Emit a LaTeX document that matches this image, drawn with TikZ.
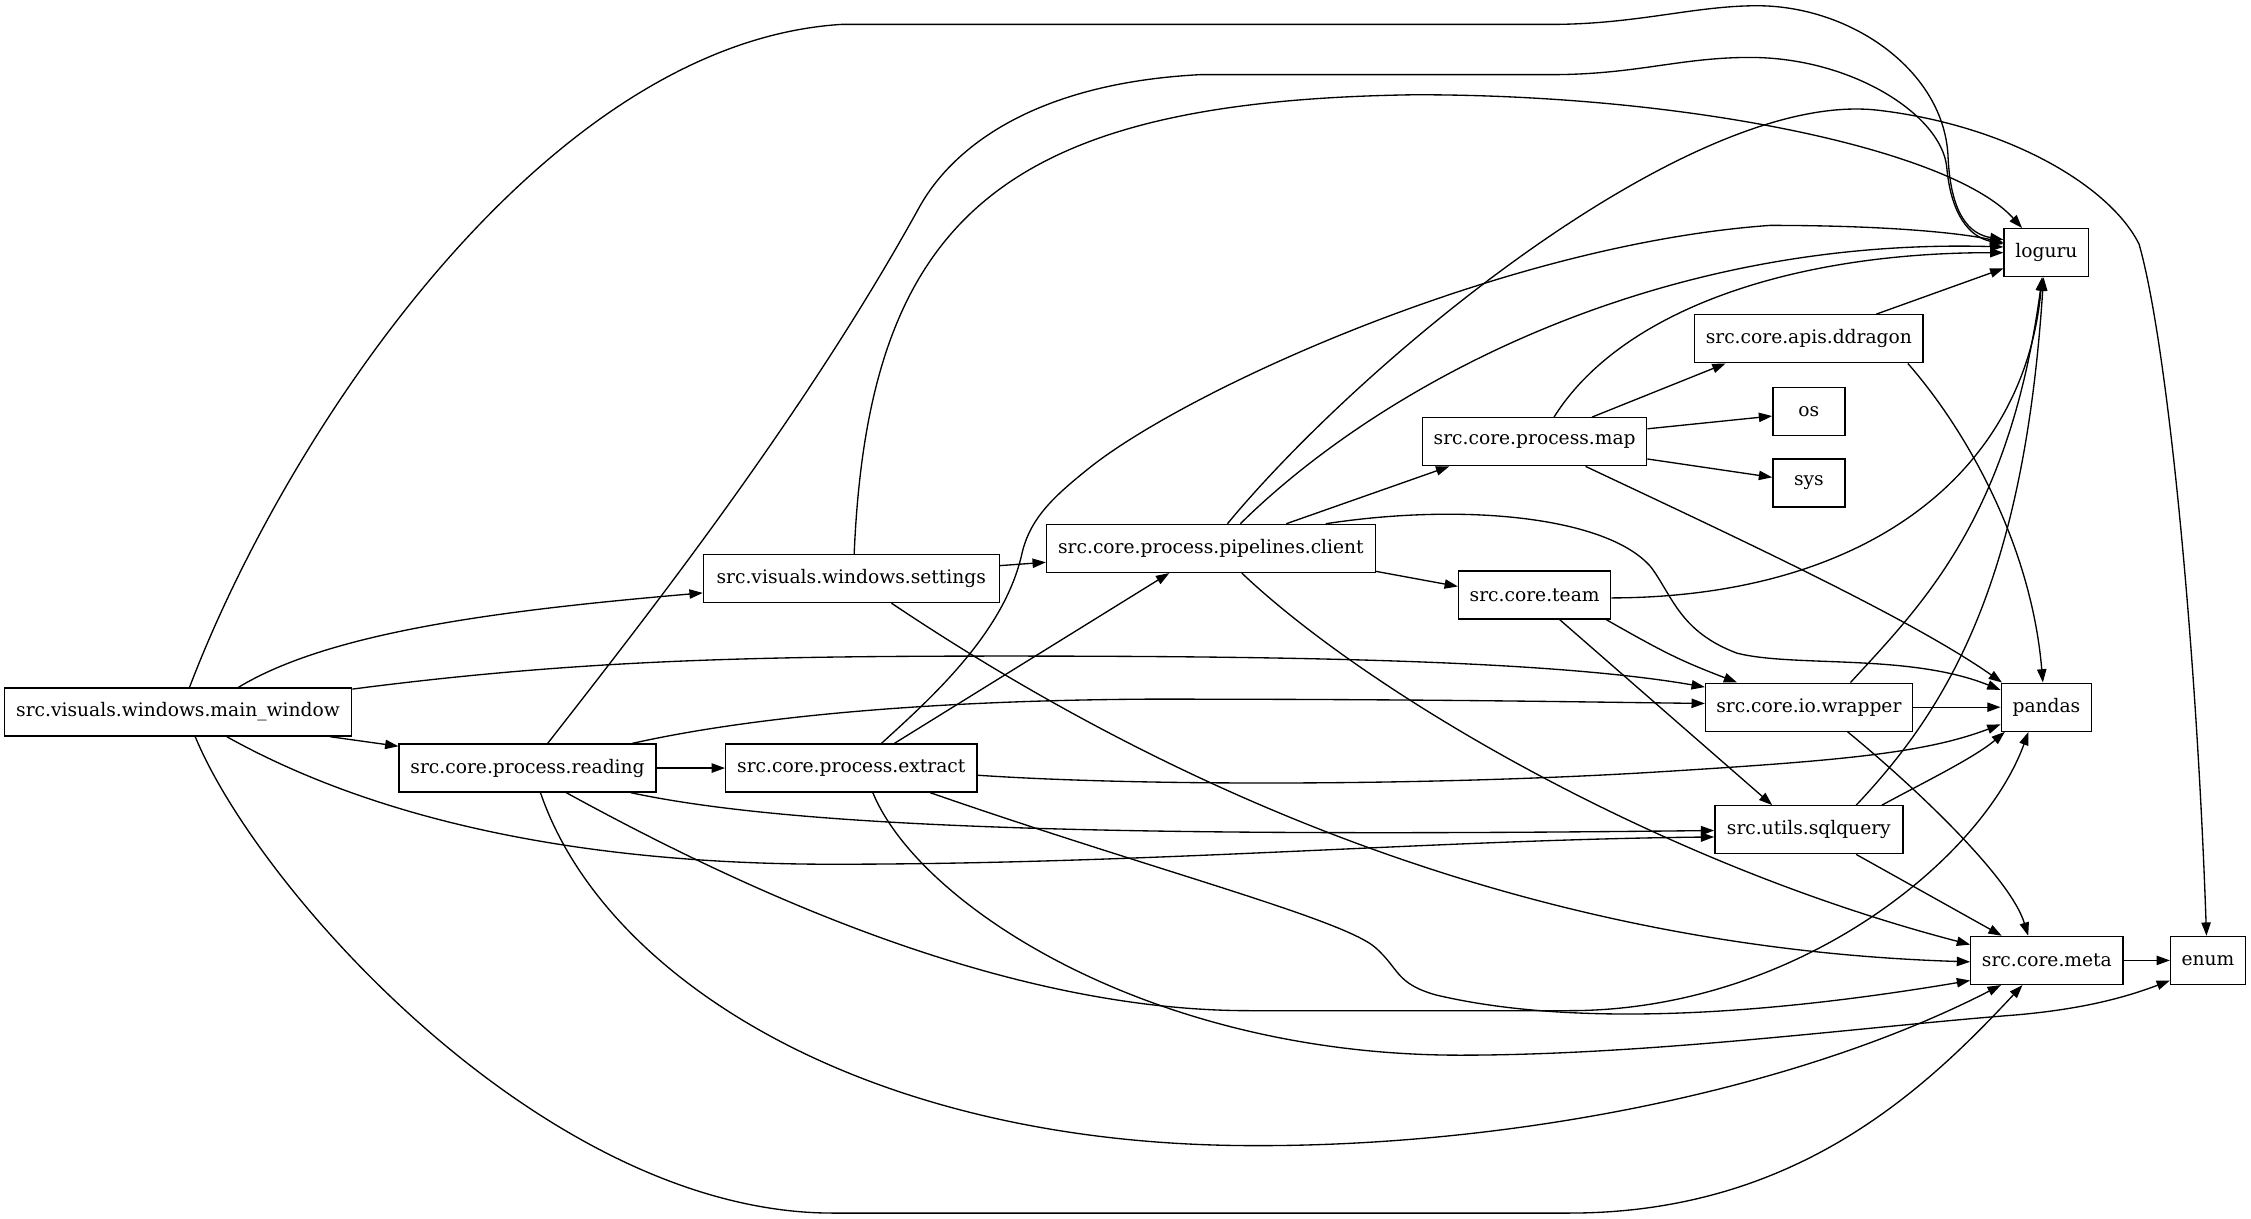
\documentclass[tikz,border=0pt]{standalone}
\usepackage{fontspec}
\setmainfont{DejaVu Serif}
\usetikzlibrary{arrows.meta,calc}
\begin{document}
\begin{tikzpicture}[x=1.0767pt,y=-1.0767pt,
  mod/.style={draw,line width=1pt,rectangle,minimum height=36pt,inner sep=0pt,font=\fontsize{14pt}{17pt}\selectfont},
  dep/.style={line width=1pt,-{Triangle[length=10pt,width=7pt]}}]
\useasboundingbox[fill=white] (0,0) rectangle (1568,849);
% nodes
\node[mod,minimum width=260.6pt] (mw) at (124,496) {src.visuals.windows.main\_window};
\node[mod,minimum width=192.7pt] (rd) at (367.5,535) {src.core.process.reading};
\node[mod,minimum width=221.8pt] (st) at (593,403) {src.visuals.windows.settings};
\node[mod,minimum width=188.4pt] (ex) at (593,535) {src.core.process.extract};
\node[mod,minimum width=246.6pt] (cl) at (843.5,382) {src.core.process.pipelines.client};
\node[mod,minimum width=168pt] (mp) at (1069,307.7) {src.core.process.map};
\node[mod,minimum width=114.1pt] (tm) at (1069,414.5) {src.core.team};
\node[mod,minimum width=171.2pt] (dd) at (1260,236) {src.core.apis.ddragon};
\node[mod,minimum width=54pt] (os) at (1260,286.5) {os};
\node[mod,minimum width=54pt] (sy) at (1260,336.5) {sys};
\node[mod,minimum width=63.5pt] (lg) at (1425.5,176) {loguru};
\node[mod,minimum width=155pt] (wr) at (1260,492.6) {src.core.io.wrapper};
\node[mod,minimum width=67.8pt] (pd) at (1425.5,492.6) {pandas};
\node[mod,minimum width=141pt] (sq) at (1260,578) {src.utils.sqlquery};
\node[mod,minimum width=114.1pt] (mt) at (1425.8,669) {src.core.meta};
\node[mod,minimum width=56pt] (en) at (1538,669) {enum};
% main_window
\draw[dep] ($(mw.north)+(8,0)$) .. controls (200,300) and (380,30) .. (586,17) -- (1080,17)
  .. controls (1140,17) and (1180,4) .. (1224,4) .. controls (1290,4) and (1355,50) .. (1357,110)
  .. controls (1359,150) and (1372,163) .. ($(lg.west)+(0,-9)$);
\draw[dep] ($(mw.north)+(42,0)$) .. controls (230,440) and (350,425) .. ($(st.west)+(0,10)$);
\draw[dep] ($(mw.east)+(0,-16)$) .. controls (400,460) and (520,457) .. (700,457)
  .. controls (900,457) and (1080,460) .. ($(wr.west)+(0,-14)$);
\draw[dep] ($(mw.south)+(106,0)$) -- ($(rd.north west)+(0,2)$);
\draw[dep] ($(mw.south)+(34,0)$) .. controls (260,570) and (400,602) .. (580,602)
  .. controls (800,602) and (1000,585) .. ($(sq.west)+(0,5)$);
\draw[dep] ($(mw.south)+(12,0)$) .. controls (180,620) and (380,845) .. (580,845) -- (1093,845)
  .. controls (1250,845) and (1340,760) .. ($(mt.south)+(-17,0)$);
% reading
\draw[dep] (rd.east) -- (ex.west);
\draw[dep] ($(rd.north)+(14,0)$) .. controls (450,430) and (560,290) .. (640,145)
  .. controls (663,103) and (720,58) .. (836,52) -- (1080,52)
  .. controls (1140,52) and (1170,40) .. (1219,40) .. controls (1290,40) and (1352,80) .. (1356,116)
  .. controls (1359,150) and (1372,165) .. ($(lg.west)+(0,-6)$);
\draw[dep] ($(rd.north east)+(-17,0)$) .. controls (520,500) and (640,488) .. (800,487)
  .. controls (1000,487) and (1100,489) .. ($(wr.west)+(0,-2.6)$);
\draw[dep] ($(rd.south east)+(-18,0)$) .. controls (560,578) and (800,583) .. ($(sq.west)+(0,0.5)$);
\draw[dep] ($(rd.south)+(27,0)$) .. controls (520,621) and (700,704) .. (870,704) -- (1093,704)
  .. controls (1250,704) and (1380,600) .. ($(pd.south)+(-12.5,0)$);
\draw[dep] ($(rd.south)+(9,0)$) .. controls (420,680) and (600,797) .. (870,798)
  .. controls (1050,799) and (1250,760) .. ($(mt.south)+(-32,0)$);
% settings
\draw[dep] ($(st.east)+(0,-9)$) -- ($(cl.west)+(0,9.7)$);
\draw[dep] ($(st.north)+(2,0)$) .. controls (605,150) and (700,70) .. (986,66)
  .. controls (1180,66) and (1360,105) .. ($(lg.north)+(-17,0)$);
\draw[dep] ($(st.south)+(28,0)$) .. controls (800,540) and (1050,660) .. ($(mt.west)+(0,1)$);
% extract
\draw[dep] ($(ex.north)+(30,0)$) -- ($(cl.south)+(-29,0)$);
\draw[dep] ($(ex.north)+(21,0)$) .. controls (650,485) and (700,440) .. (712,385)
  .. controls (718,360) and (735,345) .. (760,325)
  .. controls (830,270) and (1050,170) .. (1233,157)
  .. controls (1320,157) and (1370,163) .. ($(lg.west)+(0,-7)$);
\draw[dep] ($(ex.east)+(0,5)$) .. controls (800,548) and (1000,547) .. (1150,538)
  .. controls (1280,530) and (1340,525) .. ($(pd.west)+(0,12)$);
\draw[dep] ($(ex.south)+(55,0)$) .. controls (800,605) and (935,640) .. (958,660)
  .. controls (975,675) and (972,685) .. (1000,693)
  .. controls (1080,712) and (1200,712) .. ($(mt.west)+(0,14)$);
\draw[dep] ($(ex.south)+(15,0)$) .. controls (640,630) and (800,735) .. (1017,735)
  .. controls (1150,735) and (1300,715) .. (1404,707)
  .. controls (1450,703) and (1480,695) .. ($(en.west)+(0,14)$);
% client
\draw[dep] ($(cl.north)+(52.5,0)$) -- ($(mp.south west)+(19,0)$);
\draw[dep] ($(cl.east)+(0,16)$) -- ($(tm.west)+(0,-6)$);
\draw[dep] ($(cl.north)+(20.5,0)$) .. controls (960,270) and (1150,165) .. ($(lg.west)+(0,-4)$);
\draw[dep] ($(cl.north)+(11.5,0)$) .. controls (950,250) and (1180,60) .. (1310,77)
  .. controls (1400,88) and (1470,130) .. (1490,170)
  .. controls (1510,240) and (1530,450) .. ($(en.north)+(-1,0)$);
\draw[dep] ($(cl.north east)+(-35,0)$) .. controls (1020,350) and (1120,360) .. (1150,395)
  .. controls (1165,415) and (1170,440) .. (1210,455)
  .. controls (1250,465) and (1330,455) .. ($(pd.west)+(0,-12)$);
\draw[dep] ($(cl.south)+(21.5,0)$) .. controls (950,480) and (1150,600) .. ($(mt.west)+(0,-11)$);
% map
\draw[dep] ($(mp.north)+(40,0)$) -- ($(dd.south west)+(22,0)$);
\draw[dep] ($(mp.east)+(0,-9)$) -- ($(os.west)+(0,3.3)$);
\draw[dep] ($(mp.east)+(0,12)$) -- ($(sy.west)+(0,-4)$);
\draw[dep] ($(mp.north)+(13.5,0)$) .. controls (1130,215) and (1250,176) .. (lg.west);
\draw[dep] ($(mp.south)+(35.5,0)$) .. controls (1200,370) and (1330,430) .. ($(pd.north west)+(1,0)$);
% ddragon
\draw[dep] ($(dd.north east)+(-33,0)$) -- ($(lg.west)+(0,11)$);
\draw[dep] ($(dd.south east)+(-11,0)$) .. controls (1370,300) and (1415,380) .. ($(pd.north)+(-2.5,0)$);
% team
\draw[dep] ($(tm.east)+(0,2)$) .. controls (1300,416) and (1410,330) .. ($(lg.south)+(-3,0)$);
\draw[dep] ($(tm.south east)+(-3.5,0)$) .. controls (1160,455) and (1170,460) .. ($(wr.north west)+(22.5,0)$);
\draw[dep] ($(tm.south)+(17.5,0)$) -- ($(sq.north)+(-25.5,0)$);
% wrapper
\draw[dep] ($(wr.north)+(29,0)$) .. controls (1340,420) and (1400,360) .. ($(lg.south)+(-3,0)$);
\draw[dep] (wr.east) -- (pd.west);
\draw[dep] ($(wr.south)+(27,0)$) .. controls (1330,545) and (1400,610) .. ($(mt.north)+(-13,0)$);
% sqlquery
\draw[dep] ($(sq.north)+(33,0)$) .. controls (1360,490) and (1410,400) .. ($(lg.south)+(-2,0)$);
\draw[dep] ($(sq.north east)+(-15,0)$) .. controls (1340,545) and (1375,528) .. ($(pd.south west)+(3,0)$);
\draw[dep] ($(sq.south)+(33,0)$) -- ($(mt.north west)+(22,0)$);
% meta
\draw[dep] (mt.east) -- (en.west);
\end{tikzpicture}
\end{document}
